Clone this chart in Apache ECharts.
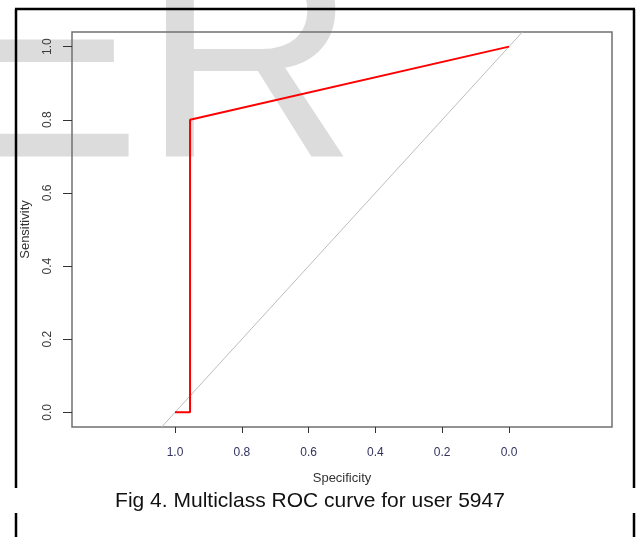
<!DOCTYPE html>
<html>
<head>
<meta charset="utf-8">
<title>Multiclass ROC curve for user 5947</title>
<script src="https://cdn.jsdelivr.net/npm/echarts@6/dist/echarts.min.js"></script>
<style>
	html, body { margin: 0; padding: 0; background: #fff; }
	#chart { width: 638px; height: 537px; }
</style>
</head>
<body>
<div id="chart"></div>
<script>
// ROC curve points (specificity runs from 1 down to 0)
const rocSpecificity = [1.0, 0.955, 0.955, 0.0];
const rocSensitivity = [0.0, 0.0, 0.8, 1.0];

// chance diagonal, drawn corner to corner of the plot region
const diagSpecificity = [1.04, -0.04];
const diagSensitivity = [-0.04, 1.04];

const xTicks = [1.0, 0.8, 0.6, 0.4, 0.2, 0.0];
const yTicks = [0.0, 0.2, 0.4, 0.6, 0.8, 1.0];

const captionText = "Fig 4. Multiclass ROC curve for user 5947";
const watermarkText = "ER";

const FONT = "'Liberation Sans', Arial, sans-serif";

function zipPoints(xs, ys) {
	return xs.map((x, i) => [x, ys[i]]);
}

// frame around the figure, broken where the caption sits
function frameLine(x1, y1, x2, y2) {
	return {
		type: "line",
		silent: true,
		z: 5,
		shape: { x1: x1, y1: y1, x2: x2, y2: y2 },
		style: { stroke: "#000", lineWidth: 2.5 },
	};
}

const chart = echarts.init(document.getElementById("chart"), null, { renderer: "canvas" });

chart.setOption({
	animation: false,
	backgroundColor: "#fff",
	textStyle: { fontFamily: FONT },
	graphic: [
		{
			type: "text",
			silent: true,
			z: -10,
			style: {
				text: watermarkText,
				x: -58,
				y: 74,
				verticalAlign: "middle",
				font: "299px " + FONT,
				fill: "#dcdcdc",
			},
		},
		frameLine(15, 9, 635, 9),
		frameLine(16, 9, 16, 488),
		frameLine(634, 9, 634, 488),
		frameLine(16, 513, 16, 537),
		frameLine(634, 513, 634, 537),
		{
			type: "text",
			silent: true,
			style: {
				text: captionText,
				x: 310,
				y: 501,
				align: "center",
				verticalAlign: "middle",
				font: "21px " + FONT,
				fill: "#111",
			},
		},
	],
	grid: {
		left: 72,
		top: 32,
		width: 540,
		height: 395,
		show: true,
		borderColor: "#707070",
		borderWidth: 1.5,
		backgroundColor: "transparent",
	},
	xAxis: {
		type: "value",
		inverse: true,
		min: -0.3084,
		max: 1.3084,
		name: "Specificity",
		nameLocation: "middle",
		nameGap: 45,
		nameTextStyle: { fontSize: 13, color: "#333", fontFamily: FONT },
		axisLine: { show: false, onZero: false },
		splitLine: { show: false },
		axisTick: {
			customValues: xTicks,
			length: 6,
			lineStyle: { color: "#333", width: 1 },
		},
		axisLabel: {
			customValues: xTicks,
			margin: 20,
			fontSize: 12,
			color: "#33335f",
			fontFamily: FONT,
			formatter: (v) => v.toFixed(1),
		},
	},
	yAxis: {
		type: "value",
		min: -0.04,
		max: 1.04,
		name: "Sensitivity",
		nameLocation: "middle",
		nameGap: 40,
		nameTextStyle: { fontSize: 13, color: "#333", fontFamily: FONT },
		axisLine: { show: false, onZero: false },
		splitLine: { show: false },
		axisTick: {
			customValues: yTicks,
			length: 9,
			lineStyle: { color: "#333", width: 1 },
		},
		axisLabel: {
			customValues: yTicks,
			rotate: 90,
			margin: 18,
			fontSize: 12,
			color: "#3a3a3a",
			fontFamily: FONT,
			formatter: (v) => v.toFixed(1),
		},
	},
	series: [
		{
			name: "diagonal",
			type: "line",
			data: zipPoints(diagSpecificity, diagSensitivity),
			symbol: "none",
			clip: true,
			lineStyle: { color: "#bdbdbd", width: 1 },
			z: 1,
		},
		{
			name: "ROC",
			type: "line",
			data: zipPoints(rocSpecificity, rocSensitivity),
			symbol: "none",
			lineStyle: { color: "#ff0000", width: 2 },
			z: 3,
		},
	],
});
</script>
</body>
</html>
